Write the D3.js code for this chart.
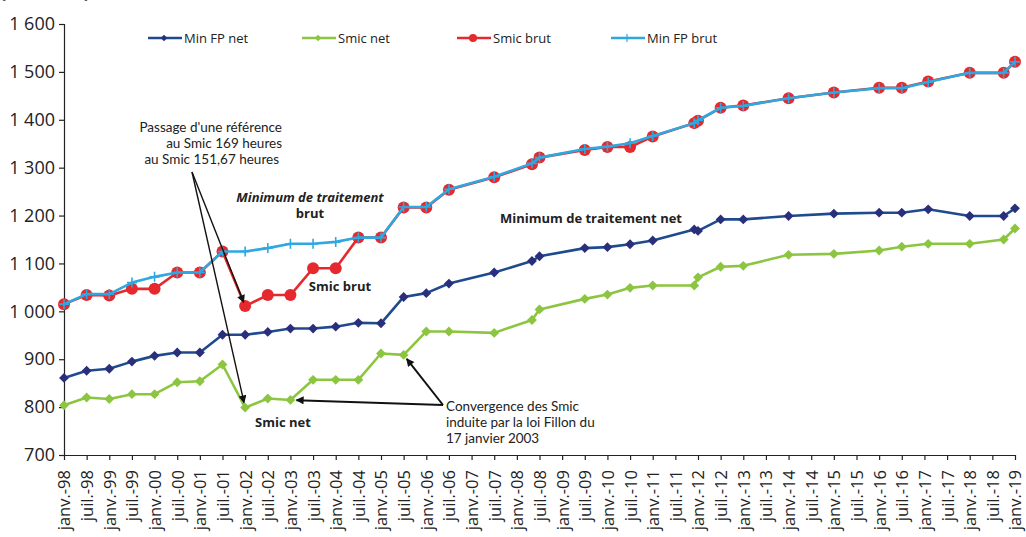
<!DOCTYPE html>
<html>
<head>
<meta charset="utf-8">
<script src="https://cdn.jsdelivr.net/npm/d3@7"></script>
<style>
  html, body { margin: 0; padding: 0; background: #fff; }
  svg { display: block; font-family: "Open Sans", "Noto Sans", sans-serif; }
</style>
</head>
<body>
<svg id="chart" width="1026" height="537"></svg>
<script>
// ---- Data (monthly € amounts) ----
const dates = ["1998-01","1998-07","1999-01","1999-07","2000-01","2000-07","2001-01","2001-07","2002-01","2002-07",
  "2003-01","2003-07","2004-01","2004-07","2005-01","2005-07","2006-01","2006-07","2007-07","2008-05",
  "2008-07","2009-07","2010-01","2010-07","2011-01","2011-12","2012-01","2012-07","2013-01","2014-01",
  "2015-01","2016-01","2016-07","2017-02","2018-01","2018-10","2019-01"];

const minFPnet = [861,876,880,895,907,914,914,951,951,957,
  964,964,968,976,975,1030,1038,1058,1081,1105,
  1115,1132,1134,1140,1148,1171,1168,1192,1192,1199,
  1204,1206,1206,1213,1199,1199,1215];

const smicNet = [804,820,817,827,827,852,854,889,799,818,
  815,857,857,857,912,909,958,958,955,982,
  1004,1026,1035,1049,1054,1054,1071,1093,1095,1118,
  1120,1127,1135,1141,1141,1150,1173];

const smicBrut = [1015,1034,1033,1047,1047,1081,1081,1125,1011,1034,
  1034,1090,1090,1154,1154,1217,1217,1254,1280,1307,
  1321,1337,1343,1343,1365,1393,1398,1425,1430,1445,
  1457,1467,1467,1480,1498,1498,1521];

const minFPbrut = [1015,1036,1036,1060,1072,1081,1081,1125,1125,1132,
  1141,1141,1145,1154,1154,1218,1218,1255,1281,1309,
  1321,1339,1344,1351,1366,1393,1399,1425,1429,1445,
  1457,1466,1466,1479,1498,1498,1521];

const seriesNames = ["Min FP net","Smic net","Smic brut","Min FP brut"];

const tickLabels = ["janv.-98","juil.-98","janv.-99","juil.-99","janv.-00","juil.-00","janv.-01","juil.-01",
  "janv.-02","juil.-02","janv.-03","juil.-03","janv.-04","juil.-04","janv.-05","juil.-05","janv.-06","juil.-06",
  "janv.-07","juil.-07","janv.-08","juil.-08","janv.-09","juil.-09","janv.-10","juil.-10","janv.-11","juil.-11",
  "janv.-12","juil.-12","janv.-13","juil.-13","janv.-14","juil.-14","janv.-15","juil.-15","janv.-16","juil.-16",
  "janv.-17","juil.-17","janv.-18","juil.-18","janv.-19"];

const yTicks = [700,800,900,1000,1100,1200,1300,1400,1500,1600];

// ---- Helpers ----
const monthIndex = s => { const [y, m] = s.split("-").map(Number); return (y - 1998) * 12 + (m - 1); };
const frNum = v => String(v).replace(/\B(?=(\d{3})+(?!\d))/g, " ");

const svg = d3.select("#chart");
const x = d3.scaleLinear().domain([0, 252]).range([64, 1015]);
const y = d3.scaleLinear().domain([700, 1600]).range([455, 24]);

// ---- Unit text, clipped at the top edge as in the reference ----
svg.append("text").attr("x", 0).attr("y", -2).attr("font-size", 18).attr("font-weight", "bold")
  .attr("fill", "#222").text("(en euros)");

// ---- Axes ----
const yAxis = svg.append("g").attr("transform", "translate(64,0)")
  .call(d3.axisLeft(y).tickValues(yTicks).tickFormat(frNum).tickSize(5).tickPadding(4));
yAxis.selectAll("text").attr("font-size", 18).attr("fill", "#222").attr("font-family", "'Open Sans', sans-serif");
yAxis.selectAll("line, path").attr("stroke", "#222").attr("stroke-width", 1.2);

const tickVals = tickLabels.map((d, i) => i * 6);
const xAxis = svg.append("g").attr("transform", "translate(0,455)")
  .call(d3.axisBottom(x).tickValues(tickVals).tickFormat((d, i) => tickLabels[i]).tickSize(5).tickSizeOuter(0));
xAxis.selectAll("line, path").attr("stroke", "#222").attr("stroke-width", 1.2);
xAxis.selectAll("text")
  .attr("font-size", 16.5).attr("fill", "#222").attr("font-family", "'Open Sans', sans-serif")
  .attr("text-anchor", "end")
  .attr("transform", "rotate(-90)")
  .attr("x", -15).attr("y", 0).attr("dy", "0.36em");

// ---- Series ----
const pts = vals => vals.map((v, i) => ({ m: monthIndex(dates[i]), v }));
const line = d3.line().x(d => x(d.m)).y(d => y(d.v));

function drawLine(vals, color, width) {
  svg.append("path").datum(pts(vals)).attr("d", line)
    .attr("fill", "none").attr("stroke", color).attr("stroke-width", width).attr("stroke-linejoin", "round");
}
const diamond = d3.symbol().type(d3.symbolDiamond2).size(62);

// Smic brut (red circles)
drawLine(smicBrut, "#e42a2e", 2.6);
svg.append("g").selectAll("circle").data(pts(smicBrut)).join("circle")
  .attr("cx", d => x(d.m)).attr("cy", d => y(d.v)).attr("r", 6).attr("fill", "#e42a2e");

// Min FP brut (light blue, plus markers)
drawLine(minFPbrut, "#2ea8e0", 2.6);
svg.append("g").selectAll("path").data(pts(minFPbrut)).join("path")
  .attr("d", d => `M${x(d.m) - 5},${y(d.v)}H${x(d.m) + 5}M${x(d.m)},${y(d.v) - 5}V${y(d.v) + 5}`)
  .attr("stroke", "#2ea8e0").attr("stroke-width", 1.6);

// Min FP net (navy diamonds)
drawLine(minFPnet, "#1f4b8e", 2.6);
svg.append("g").selectAll("path").data(pts(minFPnet)).join("path")
  .attr("d", diamond).attr("transform", d => `translate(${x(d.m)},${y(d.v)})`).attr("fill", "#2a2f7c");

// Smic net (green diamonds)
drawLine(smicNet, "#8cc540", 2.6);
svg.append("g").selectAll("path").data(pts(smicNet)).join("path")
  .attr("d", diamond).attr("transform", d => `translate(${x(d.m)},${y(d.v)})`).attr("fill", "#8cc540");

// ---- Legend ----
const legendItems = [
  { name: seriesNames[0], color: "#1f4b8e", mk: "#2a2f7c", type: "diamond", x0: 148 },
  { name: seriesNames[1], color: "#8cc540", mk: "#8cc540", type: "diamond", x0: 302 },
  { name: seriesNames[2], color: "#e42a2e", mk: "#e42a2e", type: "circle", x0: 457 },
  { name: seriesNames[3], color: "#2ea8e0", mk: "#2ea8e0", type: "plus", x0: 611 }
];
const lg = svg.append("g");
legendItems.forEach(it => {
  const g = lg.append("g").attr("transform", `translate(${it.x0},38)`);
  g.append("line").attr("x1", 0).attr("x2", 34).attr("y1", 0).attr("y2", 0).attr("stroke", it.color).attr("stroke-width", 2.6);
  if (it.type === "diamond") g.append("path").attr("d", d3.symbol().type(d3.symbolDiamond2).size(26)).attr("transform", "translate(16,0)").attr("fill", it.mk);
  if (it.type === "circle") g.append("circle").attr("cx", 16).attr("r", 4).attr("fill", it.mk);
  if (it.type === "plus") g.append("path").attr("d", "M12,0H20M16,-4V4").attr("stroke", it.mk).attr("stroke-width", 1.2);
  g.append("text").attr("x", 36).attr("dy", "0.35em").attr("font-size", 13).attr("fill", "#222").text(it.name);
});

// ---- Annotations ----
const defs = svg.append("defs");
defs.append("marker").attr("id", "arr").attr("viewBox", "0 0 10 10").attr("refX", 9).attr("refY", 5)
  .attr("markerWidth", 10).attr("markerHeight", 8).attr("markerUnits", "userSpaceOnUse").attr("orient", "auto")
  .append("path").attr("d", "M0,0L10,5L0,10z").attr("fill", "#111");

function arrow(x0, y0, dIdx, vals, gap, w) {
  const tx = x(monthIndex(dates[dIdx])), ty = y(vals[dIdx]);
  const dx = x0 - tx, dy = y0 - ty, L = Math.hypot(dx, dy);
  svg.append("line").attr("x1", x0).attr("y1", y0)
    .attr("x2", tx + dx / L * gap).attr("y2", ty + dy / L * gap)
    .attr("stroke", "#111").attr("stroke-width", w).attr("marker-end", "url(#arr)");
}
arrow(192, 172, 8, smicBrut, 4, 1.4);
arrow(192, 172, 8, smicNet, 5, 1.4);
arrow(443, 405, 10, smicNet, 6, 2);
arrow(443, 405, 15, smicNet, 5, 2);

function txt(xp, yp, s, opts = {}) {
  svg.append("text").attr("x", xp).attr("y", yp).attr("dy", "0.35em")
    .attr("font-size", opts.size || 13).attr("fill", "#222")
    .attr("font-family", opts.family || null)
    .attr("text-anchor", opts.anchor || "start")
    .attr("font-weight", opts.bold ? "bold" : "normal")
    .attr("font-style", opts.italic ? "italic" : "normal")
    .text(s);
}
const multi = { family: "Lato, 'Open Sans', sans-serif", size: 13.5 };
txt(282, 127, "Passage d'une référence", { ...multi, anchor: "end" });
txt(282, 143, "au Smic 169 heures", { ...multi, anchor: "end" });
txt(279, 159, "au Smic 151,67 heures", { ...multi, anchor: "end" });

txt(310, 197, "Minimum de traitement", { anchor: "middle", bold: true, italic: true });
txt(310, 213, "brut", { anchor: "middle", bold: true });
txt(340, 286, "Smic brut", { anchor: "middle", bold: true });
txt(591, 218, "Minimum de traitement net", { anchor: "middle", bold: true });
txt(283, 422, "Smic net", { anchor: "middle", bold: true });

txt(446, 406, "Convergence des Smic", multi);
txt(446, 422, "induite par la loi Fillon du", multi);
txt(446, 438, "17 janvier 2003", multi);
</script>
</body>
</html>
